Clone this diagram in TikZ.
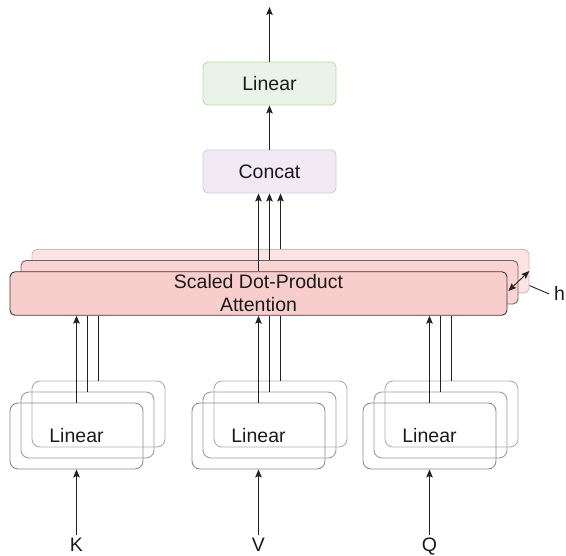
\documentclass[tikz,border=0pt]{standalone}
\usepackage{fontspec}
\setmainfont{Liberation Sans}
\usetikzlibrary{arrows.meta,calc}
\definecolor{txt}{HTML}{1A1A1A}
\definecolor{ln}{HTML}{222222}
\definecolor{grf}{HTML}{E9F3E7}
\definecolor{grd}{HTML}{BCDCAE}
\definecolor{puf}{HTML}{F1EAF4}
\definecolor{pud}{HTML}{D6C6DE}
\definecolor{rdfa}{HTML}{F8CECC}
\definecolor{rdda}{HTML}{3A3A3A}
\definecolor{rdfb}{HTML}{F9D4D3}
\definecolor{rddb}{HTML}{6E6262}
\definecolor{rdfc}{HTML}{FCE4E3}
\definecolor{rddc}{HTML}{D5B8B7}
\definecolor{lfr}{HTML}{8C8C8C}
\definecolor{lmd}{HTML}{9C9C9C}
\definecolor{lbk}{HTML}{ADADAD}
\begin{document}
\begin{tikzpicture}[x=1pt,y=-1pt,
  every node/.style={font=\fontsize{19.5}{23}\selectfont, text=txt},
  box/.style={rectangle, rounded corners=5pt, minimum width=133pt, minimum height=43pt, inner sep=0pt, line width=0.9pt},
  linbox/.style={rectangle, rounded corners=8pt, minimum width=133pt, minimum height=66pt, inner sep=0pt, line width=0.9pt, draw=#1},
  attbox/.style={rectangle, rounded corners=5pt, minimum width=497pt, minimum height=43.5pt, inner sep=0pt, line width=0.9pt, align=center},
  inp/.style={inner sep=0pt, anchor=base},
  arr/.style={-{Stealth[length=8pt,width=6.5pt,inset=1.5pt]}, line width=0.9pt, draw=ln},
  darr/.style={{Stealth[length=8pt,width=6.5pt,inset=1.5pt]}-{Stealth[length=8pt,width=6.5pt,inset=1.5pt]}, line width=0.9pt, draw=ln},
  plain/.style={line width=0.9pt, draw=ln}]
\useasboundingbox (0,0) rectangle (566,556);

% top boxes
\node[box, fill=grf, draw=grd] (lin) at (269.5,83.5) {Linear};
\node[box, fill=puf, draw=pud] (cat) at (269.5,171.5) {Concat};
\coordinate (out) at (269.5,7);
\draw[arr] (lin.north) -- (out);
\draw[arr] (cat.north) -- (lin.south);

% h label and its pointer (drawn first, hidden behind the boxes)
\node[inner sep=0pt, inner xsep=5pt, anchor=base west] (hl) at (549,301) {h};
\coordinate (hA) at (508.3,291);
\coordinate (hB) at (529.3,271);
\coordinate (hmid) at ($(hA)!0.5!(hB)$);
\draw[plain] (hmid) -- (hl.west);

% attention stack
\node[attbox, fill=rdfc, draw=rddc] (att3) at (280.5,271.2) {};
\node[attbox, fill=rdfb, draw=rddb] (att2) at (269.5,282.3) {};
\node[attbox, fill=rdfa, draw=rdda] (att1) at (258.5,293.5) {Scaled Dot-Product\\Attention};
\draw[darr] (hA) -- (hB);

\draw[arr] (att1.north) -- (att1.north |- cat.south);
\draw[arr] (att2.north) -- (att2.north |- cat.south);
\draw[arr] (att3.north) -- (att3.north |- cat.south);

% lower linear stacks
\foreach \nm/\xc/\lab in {K/76.5/K, V/258.5/V, Q/429.5/Q}{
  \node[linbox=lbk] (\nm3) at (\xc+22,414) {};
  \node[linbox=lmd] (\nm2) at (\xc+11,425) {};
  \node[linbox=lfr] (\nm1) at (\xc,436) {Linear};
  \node[inp] (\nm in) at (\xc,552) {\lab};
  \draw[arr, shorten <=3pt] (\nm in.north) -- (\nm1.south);
  \draw[arr] (\nm1.north) -- (\nm1.north |- att1.south);
  \draw[plain] (\nm2.north) -- (\nm2.north |- att1.south);
  \draw[plain] (\nm3.north) -- (\nm3.north |- att1.south);
}
\end{tikzpicture}
\end{document}
